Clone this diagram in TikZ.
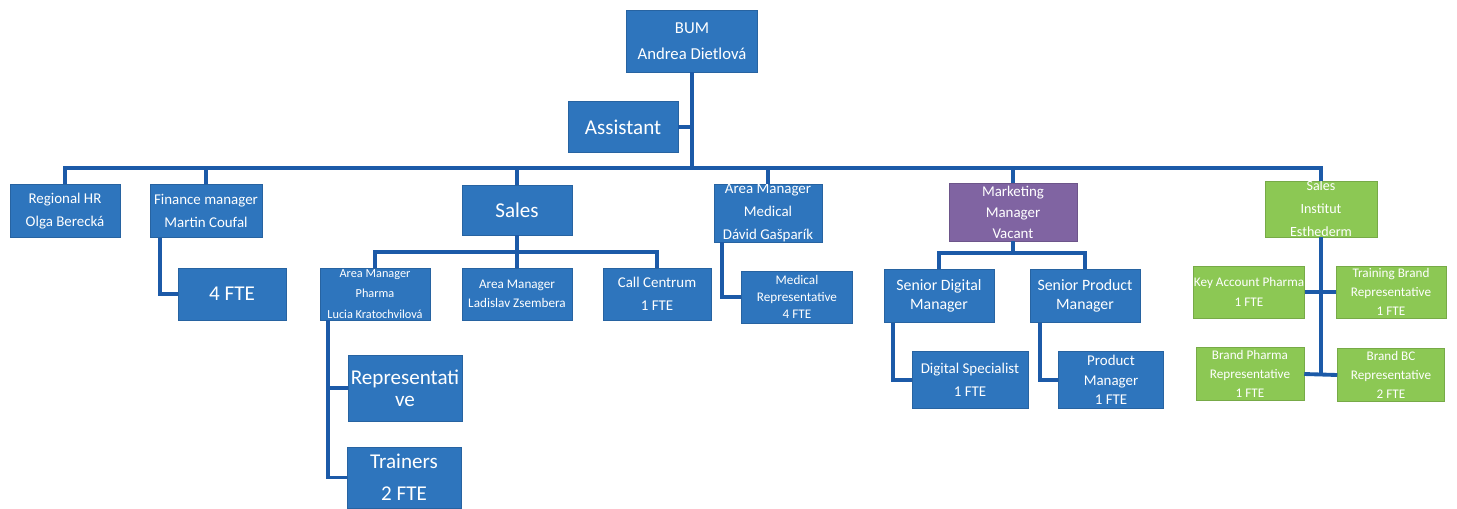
\documentclass[tikz,border=0pt]{standalone}
\usepackage{fontspec}
\setmainfont{Carlito}
\definecolor{boxblue}{RGB}{46,117,189}
\definecolor{lineblue}{RGB}{28,90,168}
\definecolor{boxpurple}{RGB}{128,100,162}
\definecolor{boxgreen}{RGB}{140,200,84}
\newcommand{\fsz}[2]{\fontsize{#1}{#2}\selectfont}

\begin{document}
\begin{tikzpicture}[x=0.02cm, y=-0.02cm, box/.style = {shape=rectangle, fill=boxblue, draw=boxblue!85!black, line width=0.3pt,
                        text=white, align=center, inner sep=0pt}, purplebox/.style = {box, fill=boxpurple, draw=boxpurple!85!black},
                        greenbox/.style = {box, fill=boxgreen, draw=boxgreen!85!black}, link/.style = {draw=lineblue, line width=2.2pt}]
        \useasboundingbox (0,0) rectangle (1457,508);
        % top
        \node[box, minimum width=2.62cm, minimum height=1.24cm, font=\fsz{9.5}{14.5}] (bum) at (692,41) {BUM\\Andrea Dietlová};
        \node[box, minimum width=2.2cm, minimum height=1.02cm, font=\fsz{12}{14}] (asst) at (623,127) {Assistant};
        % second row
        \node[box, minimum width=2.2cm, minimum height=1.06cm, font=\fsz{8.5}{13}] (hr) at (65,211) {Regional HR\\Olga Berecká};
        \node[box, minimum width=2.24cm, minimum height=1.06cm, font=\fsz{8.5}{13}] (fin) at (206,211) {Finance manager\\Martin Coufal};
        \node[box, minimum width=2.2cm, minimum height=1.0cm, font=\fsz{12}{14}] (sales) at (517,210) {Sales};
        \node[box, minimum width=2.16cm, minimum height=1.12cm, font=\fsz{8.5}{13}] (med) at (768,213) {Area Manager\\Medical\\Dávid Gašparík};
        \node[purplebox, minimum width=2.56cm, minimum height=1.16cm, font=\fsz{8.5}{12}] (mkt) at (1013,212) {Marketing\\Manager\\Vacant};
        \node[greenbox, minimum width=2.24cm, minimum height=1.08cm, font=\fsz{8}{13}] (est) at (1321,209) {Sales\\Institut\\Esthederm};
        % third row
        \node[box, minimum width=2.16cm, minimum height=1.04cm, font=\fsz{12}{14}] (fte4) at (232,294) {4 FTE};
        \node[box, minimum width=2.2cm, minimum height=1.04cm, font=\fsz{7}{11.5}] (amph) at (375,294) {Area Manager\\Pharma\\Lucia Kratochvilová};
        \node[box, minimum width=2.2cm, minimum height=1.04cm, font=\fsz{7.5}{11}] (amls) at (517,294) {Area Manager\\Ladislav Zsembera};
        \node[box, minimum width=2.16cm, minimum height=1.04cm, font=\fsz{8.5}{13}] (call) at (657,294) {Call Centrum\\1 FTE};
        \node[box, minimum width=2.22cm, minimum height=1.04cm, font=\fsz{7.5}{9.5}] (medrep) at (797,297) {Medical\\Representative\\4 FTE};
        \node[box, minimum width=2.2cm, minimum height=1.06cm, font=\fsz{9}{10.5}] (sdm) at (939,296) {Senior Digital\\Manager};
        \node[box, minimum width=2.2cm, minimum height=1.06cm, font=\fsz{9}{10.5}] (spm) at (1085,296) {Senior Product\\Manager};
        \node[greenbox, minimum width=2.22cm, minimum height=1.04cm, font=\fsz{7.5}{11}] (kap) at (1249,292) {Key Account Pharma\\1 FTE};
        \node[greenbox, minimum width=2.2cm, minimum height=1.04cm, font=\fsz{7.5}{11}] (tbr) at (1391,292) {Training Brand\\Representative\\1 FTE};
        % fourth row
        \node[box, minimum width=2.28cm, minimum height=1.32cm, font=\fsz{12}{12.5}] (rep) at (405,388) {Representati\\ve};
        \node[box, minimum width=2.28cm, minimum height=1.22cm, font=\fsz{12}{18}] (trn) at (404,477.5) {Trainers\\2 FTE};
        \node[box, minimum width=2.32cm, minimum height=1.14cm, font=\fsz{8.5}{13}] (dspec) at (970,380) {Digital Specialist\\1 FTE};
        \node[box, minimum width=2.1cm, minimum height=1.14cm, font=\fsz{8.5}{11}] (pm) at (1111,380) {Product\\Manager\\1 FTE};
        \node[greenbox, minimum width=2.16cm, minimum height=1.06cm, font=\fsz{7.5}{11}] (bpr) at (1250,374) {Brand Pharma\\Representative\\1 FTE};
        \node[greenbox, minimum width=2.14cm, minimum height=1.06cm, font=\fsz{7.5}{11}] (bbc) at (1391,375) {Brand BC\\Representative\\2 FTE};
        % connectors
        \coordinate (bus) at (692,168);
        \coordinate (sbus) at (517,252);
        \coordinate (mbus) at (1013,253);
        \draw[link] (bum.south) -- (bus);
        \draw[link] (asst.east) -- (asst.east -| bum.south);
        \draw[link] (hr.north) -- (hr.north |- bus) -- (est.north |- bus) -- (est.north);
        \foreach \n in {fin, sales, med, mkt}
            \draw[link] (\n.north) -- (\n.north |- bus);
        \draw[link] ([xshift=0.2cm]fin.south west) |- (fte4.west);
        \draw[link] (sales.south) -- (amls.north);
        \draw[link] (amph.north) -- (amph.north |- sbus) -- (call.north |- sbus) -- (call.north);
        \draw[link] ([xshift=0.16cm]amph.south west) |- (trn.west);
        \draw[link] ([xshift=0.16cm]amph.south west |- rep.west) -- (rep.west);
        \draw[link] ([xshift=0.16cm]med.south west) |- (medrep.west);
        \draw[link] (mkt.south) -- (mbus);
        \draw[link] (sdm.north) -- (sdm.north |- mbus) -- (spm.north |- mbus) -- (spm.north);
        \draw[link] ([xshift=0.18cm]sdm.south west) |- (dspec.west);
        \draw[link] ([xshift=0.2cm]spm.south west) |- (pm.west);
        \draw[link] (est.south) -- (est.south |- bbc.west);
        \draw[link] (kap.east) -- (tbr.west);
        \draw[link] (bpr.east) -- (bbc.west);
    \end{tikzpicture}
\end{document}
